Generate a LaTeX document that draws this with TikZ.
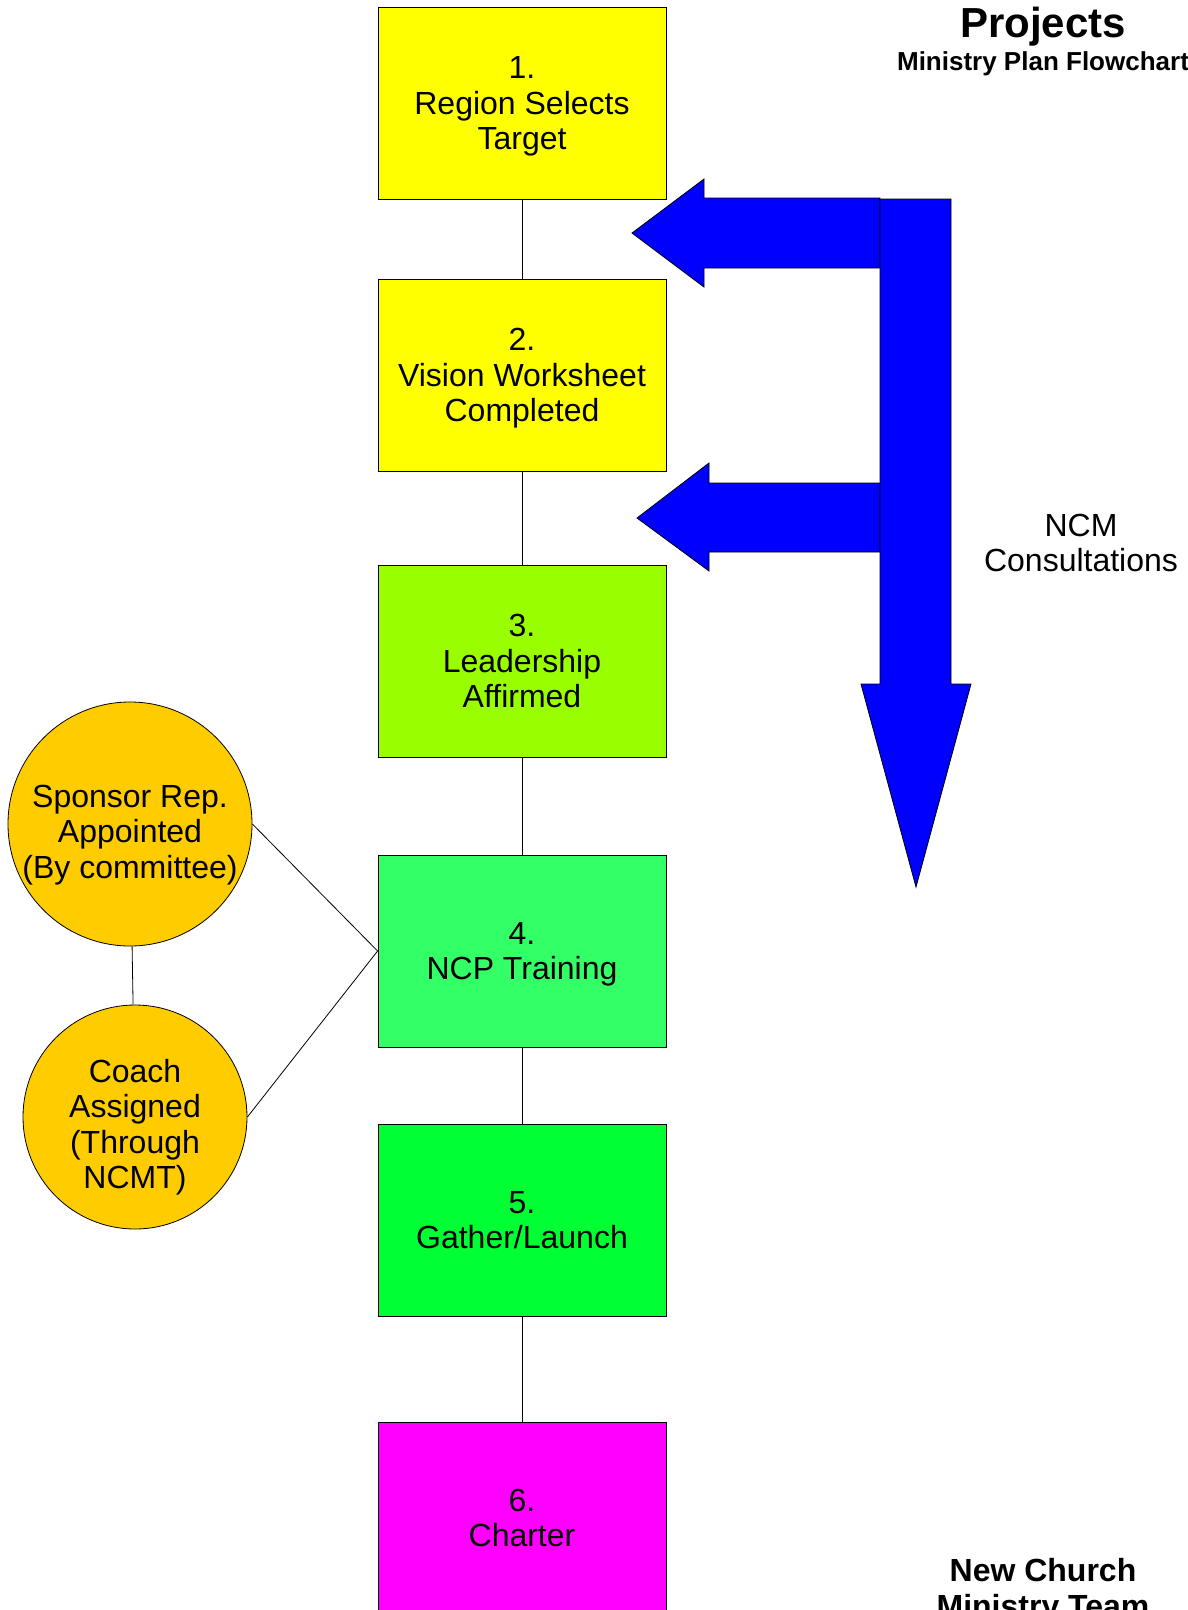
\documentclass[tikz,border=0pt]{standalone}
\usepackage{fontspec}
\setmainfont{Liberation Sans}
\usetikzlibrary{positioning}

\definecolor{targetyellow}{HTML}{FFFF00}
\definecolor{leadgreen}{HTML}{99FF00}
\definecolor{traingreen}{HTML}{33FF66}
\definecolor{launchgreen}{HTML}{00FF33}
\definecolor{chartermagenta}{HTML}{FF00FF}
\definecolor{roleorange}{HTML}{FFCC00}
\definecolor{consultblue}{HTML}{0000FF}

\tikzset{
	stepbox/.style={draw, line width=0.8pt, minimum width=288pt, minimum height=192pt, inner sep=0pt, align=center, text depth=0pt},
	rolecircle/.style={draw, circle, line width=0.8pt, fill=roleorange, inner sep=0pt, align=center, text depth=0pt},
	bluearrow/.style={draw, line width=0.8pt, fill=consultblue},
	link/.style={draw, line width=0.8pt},
}

\begin{document}
\begin{tikzpicture}[x=1pt, y=-1pt, font=\fontsize{32}{35.5}\selectfont]
		\useasboundingbox (0,0) rectangle (1187,1610);

		% Title
		\node (title) at (1043,27) {\fontsize{42}{46}\selectfont\textbf{Projects}};
		\node (subtitle) at (1043,64) {\fontsize{26}{30}\selectfont\textbf{Ministry Plan Flowchart}};

		% Steps
		\node[stepbox, fill=targetyellow] (step1) at (522,103) {1.\\Region Selects\\Target};
		\node[stepbox, fill=targetyellow] (step2) at (522,375) {2.\\Vision Worksheet\\Completed};
		\node[stepbox, fill=leadgreen] (step3) at (522,661) {3.\\Leadership\\Affirmed};
		\node[stepbox, fill=traingreen] (step4) at (522,951) {4.\\NCP Training};
		\node[stepbox, fill=launchgreen] (step5) at (522,1220) {5.\\Gather/Launch};
		\node[stepbox, fill=chartermagenta] (step6) at (522,1518) {6.\\Charter};

		% Sponsor and coach
		\node[rolecircle, minimum size=244pt, text height=108pt] (sponsor) at (130,824) {Sponsor Rep.\\Appointed\\(By committee)};
		\node[rolecircle, minimum size=224pt, text height=143pt] (coach) at (135,1117) {Coach\\Assigned\\(Through\\NCMT)};

		% Connections
		\draw[link] (step1) -- (step2);
		\draw[link] (step2) -- (step3);
		\draw[link] (step3) -- (step4);
		\draw[link] (step4) -- (step5);
		\draw[link] (step5) -- (step6);
		\draw[link] (sponsor.east) -- (step4.west);
		\draw[link] (coach.east) -- (step4.west);
		\draw[link] (sponsor) -- (coach);

		% NCM Consultations
		\draw[bluearrow] (880,198) -- (704,198) -- (704,179) -- (632,233) -- (704,287) -- (704,268) -- (880,268) -- cycle;
		\draw[bluearrow] (880,483) -- (709,483) -- (709,463) -- (637,518) -- (709,571) -- (709,552) -- (880,552) -- cycle;
		\draw[bluearrow] (880,199) -- (951,199) -- (951,684) -- (971,684) -- (916,887) -- (861,684) -- (880,684) -- cycle;
		\node[align=center] (consult) at (1081,543) {NCM\\Consultations};

		% Team
		\node[align=center] (team) at (1043,1591) {\fontsize{32}{34}\selectfont\textbf{New Church}\\\fontsize{32}{34}\selectfont\textbf{Ministry Team}};
	\end{tikzpicture}
\end{document}
